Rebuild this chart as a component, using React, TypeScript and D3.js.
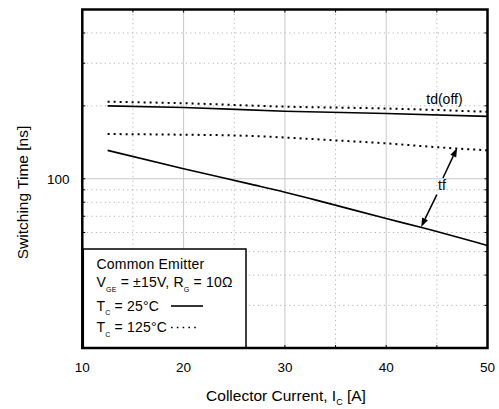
import React from "react";
import * as d3 from "d3";

const current = [12.5, 20, 30, 40, 50];
const tdOff25 = [200, 197, 190, 186, 181];
const tdOff125 = [208, 205, 198.5, 195, 189];
const tfCurrent = [12.5, 20, 25, 30, 35, 40, 45, 50];
const tf125 = [153, 152, 151, 148, 144, 140, 135, 131];
const tf25Current = [12.5, 20, 26.6, 30, 32.9, 40, 43.4, 50];
const tf25 = [131, 110, 95, 88, 82, 68.5, 63, 53];

const xTicks = [10, 20, 30, 40, 50];
const xMajorGrid = [20, 30, 40];
const xMinorGrid = [15, 25, 35, 45];
const yTickLabels = [100];
const yMajorGrid = [100];
const yMinorGrid = [30, 40, 50, 60, 70, 80, 90, 200, 300, 400];

const FONT = "'Liberation Sans', Arial, Helvetica, sans-serif";

export default function App() {
  const left = 82.3, right = 487.5, top = 9.5, bottom = 348;
  const x = d3.scaleLinear().domain([10, 50]).range([left, right]);
  const y = d3.scaleLog().domain([20, 500]).range([bottom, top]);

  const line = (xs: number[], ys: number[]) =>
    d3.line<number>().x((_, i) => x(xs[i])).y((d) => y(d)).curve(d3.curveMonotoneX)(ys) || "";

  const allY = [...yMinorGrid, ...yMajorGrid];
  const allX = [...xMinorGrid, ...xMajorGrid];

  const arrowUp = { from: [45.6, 100.7], to: [47.0, 134] };
  const arrowDown = { from: [45.0, 86], to: [43.45, 63.2] };

  const arrowHead = (from: number[], to: number[]) => {
    const x1 = x(from[0]), y1 = y(from[1]), x2 = x(to[0]), y2 = y(to[1]);
    const ang = Math.atan2(y2 - y1, x2 - x1);
    const L = 9, W = 3.2;
    const bx = x2 - L * Math.cos(ang), by = y2 - L * Math.sin(ang);
    const px = -Math.sin(ang) * W, py = Math.cos(ang) * W;
    return {
      line: { x1, y1, x2: bx, y2: by },
      head: `M${x2},${y2}L${bx + px},${by + py}L${bx - px},${by - py}Z`,
    };
  };
  const a1 = arrowHead(arrowUp.from, arrowUp.to);
  const a2 = arrowHead(arrowDown.from, arrowDown.to);

  const legX = left + 1;
  const legTop = 249;
  const legRight = 246;
  const LF = 14;
  const SF = 7;
  const SD = 4.5;

  return (
    <svg
      width={499}
      height={409}
      style={{ position: "absolute", left: 0, top: 0, background: "#fff" }}
      fontFamily={FONT}
    >
      <rect x={0} y={0} width={499} height={409} fill="#fff" />
      {xMinorGrid.map((v) => (
        <line key={"xm" + v} x1={x(v)} x2={x(v)} y1={top} y2={bottom} stroke="#b5b5b5" strokeWidth={1} strokeDasharray="1.2,3.3" />
      ))}
      {yMinorGrid.map((v) => (
        <line key={"ym" + v} x1={left} x2={right} y1={y(v)} y2={y(v)} stroke="#b5b5b5" strokeWidth={1} strokeDasharray="1.2,3.3" />
      ))}
      {xMajorGrid.map((v) => (
        <line key={"xM" + v} x1={x(v)} x2={x(v)} y1={top} y2={bottom} stroke="#c8c8c8" strokeWidth={1} />
      ))}
      {yMajorGrid.map((v) => (
        <line key={"yM" + v} x1={left} x2={right} y1={y(v)} y2={y(v)} stroke="#c8c8c8" strokeWidth={1} />
      ))}
      {allY.map((v) => (
        <g key={"ty" + v}>
          <line x1={left} x2={left + 3} y1={y(v)} y2={y(v)} stroke="#000" strokeWidth={1} />
          <line x1={right} x2={right - 3} y1={y(v)} y2={y(v)} stroke="#000" strokeWidth={1} />
        </g>
      ))}
      {allX.map((v) => (
        <g key={"tx" + v}>
          <line x1={x(v)} x2={x(v)} y1={top} y2={top + 3} stroke="#000" strokeWidth={1} />
          <line x1={x(v)} x2={x(v)} y1={bottom} y2={bottom - 3} stroke="#000" strokeWidth={1} />
        </g>
      ))}

      <path d={line(current, tdOff25)} fill="none" stroke="#000" strokeWidth={1.6} />
      <path d={line(current, tdOff125)} fill="none" stroke="#000" strokeWidth={2} strokeDasharray="2,4" />
      <path d={line(tfCurrent, tf125)} fill="none" stroke="#000" strokeWidth={2} strokeDasharray="2,4" />
      <path d={line(tf25Current, tf25)} fill="none" stroke="#000" strokeWidth={1.6} />

      <text x={x(45.75)} y={y(204)} fontSize={14} textAnchor="middle" fill="#000">td(off)</text>
      <text x={x(45.5)} y={y(90)} fontSize={14} textAnchor="middle" fill="#000">tf</text>
      <line {...a1.line} stroke="#000" strokeWidth={1.5} />
      <path d={a1.head} fill="#000" />
      <line {...a2.line} stroke="#000" strokeWidth={1.5} />
      <path d={a2.head} fill="#000" />

      <rect x={legX} y={legTop} width={legRight - legX} height={bottom - legTop} fill="#fff" stroke="#000" strokeWidth={1.5} />
      <text x={96.5} y={269} fontSize={LF} letterSpacing={0.2} fill="#000">Common Emitter</text>
      <text x={96.5} y={287} fontSize={LF} letterSpacing={0.2} fill="#000">
        V<tspan fontSize={SF} dy={SD}>GE</tspan>
        <tspan dy={-SD}> = ±15V, R</tspan>
        <tspan fontSize={SF} dy={SD}>G</tspan>
        <tspan dy={-SD}> = 10Ω</tspan>
      </text>
      <text x={96.5} y={310.5} fontSize={LF} letterSpacing={0.2} fill="#000">
        T<tspan fontSize={SF} dy={SD}>C</tspan>
        <tspan dy={-SD}> = 25°C</tspan>
      </text>
      <line x1={171} x2={203} y1={306} y2={306} stroke="#000" strokeWidth={1.6} />
      <text x={96.5} y={332} fontSize={LF} letterSpacing={0.2} fill="#000">
        T<tspan fontSize={SF} dy={SD}>C</tspan>
        <tspan dy={-SD}> = 125°C</tspan>
      </text>
      <line x1={171} x2={200} y1={327.5} y2={327.5} stroke="#000" strokeWidth={1.6} strokeDasharray="1.6,4.2" />

      <rect x={left} y={top} width={right - left} height={bottom - top} fill="none" stroke="#000" strokeWidth={2.5} />

      {xTicks.map((v) => (
        <text key={"xl" + v} x={x(v)} y={372} fontSize={13.5} textAnchor="middle" fill="#000">{v}</text>
      ))}
      {yTickLabels.map((v) => (
        <text key={"yl" + v} x={69.5} y={y(v) + 5} fontSize={13.5} textAnchor="end" fill="#000">{v}</text>
      ))}

      <text x={286} y={400.5} fontSize={15.5} textAnchor="middle" fill="#000">
        Collector Current, I<tspan fontSize={9} dy={4.5}>C</tspan>
        <tspan dy={-4.5}> [A]</tspan>
      </text>
      <text transform={`translate(28,192.5) rotate(-90)`} fontSize={15.5} textAnchor="middle" fill="#000">
        Switching Time [ns]
      </text>
    </svg>
  );
}
